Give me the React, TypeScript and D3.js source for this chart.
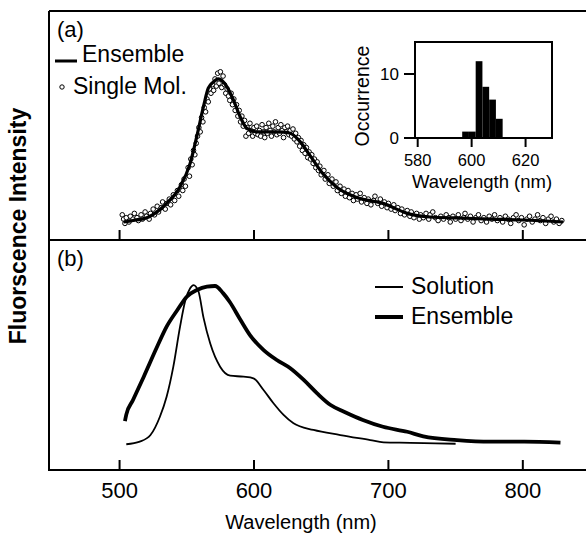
import React from "react";
import * as d3 from "d3";

// ---------- DATA ----------
const xTicks = [500, 600, 700, 800];
const insetXTicks = [580, 600, 620];
const insetYTicks = [0, 10];

// Panel (a) ensemble spectrum [wavelength nm, normalized intensity]
const ensembleA: [number, number][] = [
  [503, 0.0], [510, 0.01], [522, 0.037], [535, 0.13], [545, 0.247], [552.5, 0.41],
  [557.5, 0.6], [562.4, 0.806], [566, 0.935], [570, 0.98], [573.6, 1.0], [579.8, 0.946],
  [584.7, 0.853], [589.7, 0.736], [594.7, 0.655], [602, 0.63], [614.5, 0.63], [622, 0.628],
  [627, 0.62], [634, 0.565], [642, 0.46], [651, 0.34], [662, 0.24], [677, 0.17], [696, 0.13],
  [714, 0.06], [731, 0.035], [751, 0.028], [776, 0.02], [800, 0.014], [830, 0.0],
];

// Panel (a) single-molecule spectrum points
const singleMol: [number, number][] = [
  [502, 0.05], [503, 0.02], [504, -0.01], [505, 0.03], [507, 0.0], [508, 0.04], [510, 0.02],
  [511, 0.06], [513, 0.03], [514, 0.01], [516, 0.05], [517, 0.02], [519, 0.07], [520, 0.04],
  [522, 0.02], [523, 0.06], [525, 0.09], [526, 0.05], [528, 0.11], [529, 0.07], [531, 0.1],
  [532, 0.14], [534, 0.09], [535, 0.13], [537, 0.16], [538, 0.12], [540, 0.19], [541, 0.15],
  [543, 0.22], [544, 0.18], [546, 0.26], [547, 0.22], [548, 0.3], [549, 0.25], [551, 0.38],
  [552, 0.32], [553, 0.44], [554, 0.4], [555, 0.5], [556, 0.47], [557, 0.55], [558, 0.6],
  [559, 0.66], [560, 0.63], [561, 0.73], [562, 0.7], [563, 0.8], [564, 0.77], [565, 0.86],
  [566, 0.84], [567, 0.93], [568, 0.9], [569, 0.96], [570, 0.92], [571, 1.0], [572, 0.95],
  [573, 1.04], [574, 0.97], [575, 1.05], [576, 0.94], [577, 1.02], [578, 0.96], [579, 0.9],
  [580, 0.93], [581, 0.88], [582, 0.85], [583, 0.9], [584, 0.82], [585, 0.86], [586, 0.78],
  [587, 0.82], [588, 0.74], [589, 0.78], [590, 0.7], [591, 0.74], [592, 0.67], [593, 0.71],
  [594, 0.6], [595, 0.66], [596, 0.62], [597, 0.69], [598, 0.64], [599, 0.6], [600, 0.66],
  [601, 0.62], [602, 0.67], [603, 0.61], [604, 0.64], [605, 0.6], [606, 0.68], [607, 0.63],
  [608, 0.59], [609, 0.66], [610, 0.62], [611, 0.69], [612, 0.64], [613, 0.6], [614, 0.67],
  [615, 0.63], [616, 0.7], [617, 0.61], [618, 0.66], [619, 0.62], [620, 0.68], [621, 0.64],
  [622, 0.59], [623, 0.66], [624, 0.63], [625, 0.67], [626, 0.61], [627, 0.64], [628, 0.6],
  [629, 0.65], [630, 0.58], [631, 0.62], [632, 0.56], [633, 0.59], [634, 0.53], [635, 0.57],
  [636, 0.5], [637, 0.54], [638, 0.48], [639, 0.52], [640, 0.45], [641, 0.49], [642, 0.44],
  [643, 0.47], [644, 0.41], [645, 0.44], [646, 0.38], [647, 0.42], [648, 0.36], [649, 0.39],
  [650, 0.33], [652, 0.36], [653, 0.3], [655, 0.33], [656, 0.27], [658, 0.3], [659, 0.25],
  [661, 0.28], [662, 0.22], [664, 0.25], [665, 0.2], [667, 0.23], [668, 0.18], [670, 0.22],
  [671, 0.17], [673, 0.2], [674, 0.15], [676, 0.19], [677, 0.16], [679, 0.2], [680, 0.14],
  [682, 0.17], [684, 0.13], [685, 0.16], [687, 0.12], [689, 0.15], [690, 0.18], [692, 0.13],
  [694, 0.16], [695, 0.11], [697, 0.14], [699, 0.1], [700, 0.13], [702, 0.09], [704, 0.12],
  [705, 0.08], [707, 0.1], [709, 0.06], [710, 0.09], [712, 0.05], [714, 0.08], [716, 0.04],
  [717, 0.07], [719, 0.03], [721, 0.06], [723, 0.02], [724, 0.05], [726, 0.03], [728, 0.06],
  [730, 0.02], [731, 0.05], [733, 0.07], [735, 0.03], [737, 0.01], [739, 0.04], [741, 0.02],
  [743, 0.05], [745, 0.03], [746, 0.0], [748, 0.04], [750, 0.02], [752, 0.05], [754, 0.01],
  [756, 0.03], [757, 0.06], [759, 0.02], [761, 0.04], [763, 0.0], [765, 0.03], [767, 0.05],
  [769, 0.01], [771, 0.03], [773, 0.0], [775, 0.04], [777, 0.02], [779, 0.05], [781, 0.01],
  [783, 0.03], [785, 0.0], [787, 0.04], [789, 0.02], [791, -0.01], [793, 0.03], [795, 0.05],
  [797, 0.01], [799, 0.03], [801, -0.02], [803, 0.02], [805, 0.04], [807, 0.0], [809, 0.02],
  [811, 0.05], [813, 0.01], [815, 0.03], [817, -0.01], [819, 0.02], [821, 0.04], [823, 0.0],
  [825, 0.02], [827, -0.01], [829, 0.01],
];

// Panel (b) solution spectrum
const solutionB: [number, number][] = [
  [505, 0.017], [515, 0.033], [523, 0.074], [530, 0.187], [535, 0.31], [540, 0.496],
  [545, 0.743], [549, 0.907], [552.5, 0.98], [555, 1.0], [558.7, 0.96], [562.4, 0.8],
  [567.4, 0.64], [574.8, 0.496], [582.3, 0.44], [592.2, 0.434], [599.6, 0.424], [607.1, 0.352],
  [614.5, 0.27], [622, 0.198], [629.4, 0.146], [644.3, 0.105], [664.2, 0.074], [686.5, 0.043],
  [696.4, 0.029], [716.3, 0.026], [735, 0.022], [750, 0.02],
];

// Panel (b) ensemble spectrum
const ensembleB: [number, number][] = [
  [504, 0.16], [505, 0.2], [510, 0.29], [518, 0.434], [528, 0.62], [535, 0.743], [543, 0.846],
  [550, 0.928], [557.5, 0.969], [565, 0.99], [571, 0.994], [577, 0.95], [582, 0.895],
  [590, 0.784], [597, 0.691], [607, 0.6], [617, 0.537], [627, 0.486], [637, 0.414],
  [647, 0.331], [657, 0.259], [667, 0.218], [681, 0.167], [696, 0.125], [714, 0.094],
  [726, 0.066], [751, 0.043], [776, 0.033], [801, 0.033], [828, 0.027],
];

// Inset histogram: bin edges (nm) and occurrences
const histEdges = [596.5, 599, 601.5, 604, 606.5, 609, 611.5];
const histCounts = [1, 1, 12, 8, 6, 3];

// ---------- LAYOUT ----------
const W = 586;
const H = 536;
const FONT = "'Liberation Sans', Arial, Helvetica, sans-serif";

export default function App() {
  const x = d3.scaleLinear().domain([447.5, 847]).range([49, 586]);
  const yA = d3.scaleLinear().domain([-0.126, 1.475]).range([240, 11]);
  const yB = d3.scaleLinear().domain([-0.142, 1.278]).range([470, 240]);

  const ix = d3.scaleLinear().domain([579, 629.8]).range([415, 552]);
  const iy = d3.scaleLinear().domain([0, 15]).range([138, 42]);

  const lineA = d3
    .line<[number, number]>()
    .x((d) => x(d[0]))
    .y((d) => yA(d[1]))
    .curve(d3.curveMonotoneX);
  const lineB = d3
    .line<[number, number]>()
    .x((d) => x(d[0]))
    .y((d) => yB(d[1]))
    .curve(d3.curveMonotoneX);

  const left = 49;
  const right = 586;
  const top = 11;
  const mid = 240;
  const bottom = 470;

  return (
    <svg
      width={W}
      height={H}
      style={{ position: "absolute", left: 0, top: 0, background: "#fff" }}
      fontFamily={FONT}
    >
      <rect x={0} y={0} width={W} height={H} fill="#fff" />
      {/* frame */}
      <g stroke="#000" strokeWidth={2} fill="none">
        <line x1={left} x2={right} y1={top} y2={top} />
        <line x1={left} x2={left} y1={top} y2={bottom + 1} />
        <line x1={left} x2={right} y1={mid} y2={mid} />
        <line x1={left} x2={right} y1={bottom} y2={bottom} />
        {xTicks.map((t) => (
          <line key={"ta" + t} x1={x(t)} x2={x(t)} y1={mid} y2={mid - 10} />
        ))}
        {xTicks.map((t) => (
          <line key={"tb" + t} x1={x(t)} x2={x(t)} y1={bottom} y2={bottom - 10} />
        ))}
      </g>

      {/* x tick labels */}
      {xTicks.map((t) => (
        <text key={"lb" + t} x={x(t)} y={498} fontSize={22} textAnchor="middle" fill="#000">
          {t}
        </text>
      ))}
      <text x={301} y={529} fontSize={20} textAnchor="middle" fill="#000">
        Wavelength (nm)
      </text>
      <text
        transform="translate(18,226) rotate(-90)"
        fontSize={23}
        fontWeight="bold"
        textAnchor="middle"
        dominantBaseline="central"
        fill="#000"
      >
        Fluorscence Intensity
      </text>

      {/* Panel (a) */}
      <text x={57} y={37} fontSize={22} fill="#000">(a)</text>
      <line x1={55} x2={77} y1={61} y2={61} stroke="#000" strokeWidth={3} />
      <text x={82} y={62} fontSize={23} fill="#000">Ensemble</text>
      <circle cx={62} cy={87} r={2.2} fill="#fff" stroke="#000" strokeWidth={1} />
      <text x={73} y={94} fontSize={23} fill="#000">Single Mol.</text>

      {singleMol.map((d, i) => (
        <circle
          key={"sm" + i}
          cx={x(d[0])}
          cy={yA(d[1])}
          r={2.3}
          fill="#fff"
          stroke="#000"
          strokeWidth={1}
        />
      ))}
      <path d={lineA(ensembleA) || ""} fill="none" stroke="#000" strokeWidth={3.2} />

      {/* Inset */}
      {histCounts.map((c, i) => (
        <rect
          key={"h" + i}
          x={ix(histEdges[i])}
          y={iy(c)}
          width={ix(histEdges[i + 1]) - ix(histEdges[i])}
          height={iy(0) - iy(c)}
          fill="#000"
        />
      ))}
      <rect x={415} y={42} width={137} height={96} fill="none" stroke="#000" strokeWidth={2} />
      {insetYTicks.map((t) => (
        <g key={"iy" + t}>
          <line x1={404} x2={415} y1={iy(t)} y2={iy(t)} stroke="#000" strokeWidth={2} />
          <text x={399} y={iy(t)} fontSize={17} textAnchor="end" dominantBaseline="central" fill="#000">
            {t}
          </text>
        </g>
      ))}
      {insetXTicks.map((t) => (
        <g key={"ix" + t}>
          <line x1={ix(t)} x2={ix(t)} y1={138} y2={147} stroke="#000" strokeWidth={2} />
          <text x={ix(t)} y={166} fontSize={16.5} textAnchor="middle" fill="#000">
            {t}
          </text>
        </g>
      ))}
      <text x={482} y={188} fontSize={18.5} textAnchor="middle" fill="#000">
        Wavelength (nm)
      </text>
      <text
        transform="translate(362,96) rotate(-90)"
        fontSize={19.5}
        textAnchor="middle"
        dominantBaseline="central"
        fill="#000"
      >
        Occurrence
      </text>

      {/* Panel (b) */}
      <text x={57} y={266} fontSize={22} fill="#000">(b)</text>
      <line x1={375} x2={403} y1={287} y2={287} stroke="#000" strokeWidth={2} />
      <text x={411} y={294} fontSize={23} fill="#000">Solution</text>
      <line x1={375} x2={403} y1={317} y2={317} stroke="#000" strokeWidth={4} />
      <text x={411} y={324} fontSize={23} fill="#000">Ensemble</text>

      <path d={lineB(solutionB) || ""} fill="none" stroke="#000" strokeWidth={1.8} />
      <path d={lineB(ensembleB) || ""} fill="none" stroke="#000" strokeWidth={3.8} />
    </svg>
  );
}
